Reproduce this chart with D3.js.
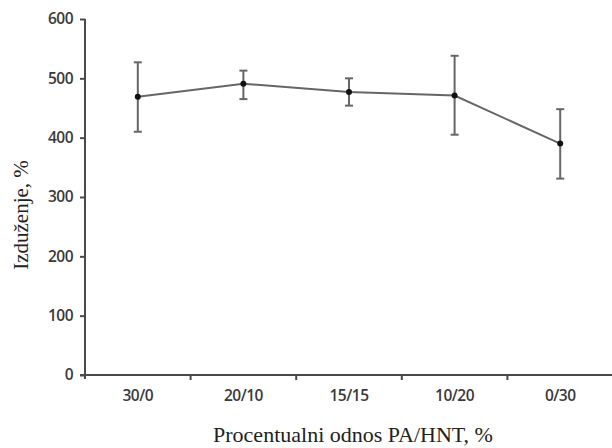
<!DOCTYPE html>
<html>
<head>
<meta charset="utf-8">
<script src="https://cdn.jsdelivr.net/npm/d3@7"></script>
<style>
  body { margin: 0; background: #fff; }
  svg { display: block; }
</style>
</head>
<body>
<svg id="chart" width="612" height="448"></svg>
<script>
const categories = ["30/0", "20/10", "15/15", "10/20", "0/30"];
const means = [469, 491, 477, 471, 390];
const upper = [527, 513, 500, 538, 448];
const lower = [410, 465, 454, 405, 331];
const yTicks = [0, 100, 200, 300, 400, 500, 600];
const xTitle = "Procentualni odnos PA/HNT, %";
const yTitle = "Izduženje, %";

(function () {
const data = categories.map((c, i) => ({ c, m: means[i], hi: upper[i], lo: lower[i] }));

const svg = d3.select("#chart");
const mLeft = 85, mRight = 613, mTop = 19, mBottom = 375;

const x = d3.scaleBand().domain(categories).range([mLeft, mRight]).paddingInner(0).paddingOuter(0);
const y = d3.scaleLinear().domain([0, 600]).range([mBottom, mTop]);

const axisColor = "#4a4a4a";
const lineColor = "#666";
const tickFont = sel => sel
  .attr("fill", "#3a3a3a")
  .style("font-family", "'Open Sans', sans-serif")
  .style("font-weight", 600)
  .style("font-size", "15.5px")
  .style("letter-spacing", "-0.5px");

// Y axis
const yAxis = svg.append("g")
  .attr("transform", `translate(${mLeft},0)`)
  .call(d3.axisLeft(y).tickValues(yTicks).tickSize(5).tickPadding(7).tickSizeOuter(0));
yAxis.select(".domain").attr("stroke", axisColor).attr("stroke-width", 2)
  .attr("d", `M0,${y(600)}V${mBottom + 4}`);
yAxis.selectAll(".tick line").attr("stroke", axisColor).attr("stroke-width", 2);
yAxis.selectAll(".tick text").call(tickFont);

// X axis (labels at band centres, ticks at band boundaries)
const xAxis = svg.append("g")
  .attr("transform", `translate(0,${mBottom})`)
  .call(d3.axisBottom(x).tickSize(0).tickPadding(15).tickSizeOuter(0));
xAxis.select(".domain").attr("stroke", axisColor).attr("stroke-width", 2)
  .attr("d", `M${mLeft - 5},0H${mRight}`);
xAxis.selectAll(".tick text").call(tickFont);
xAxis.selectAll(".bticks")
  .data(categories.slice(0, categories.length - 1))
  .enter().append("line")
  .attr("x1", d => x(d) + x.bandwidth())
  .attr("x2", d => x(d) + x.bandwidth())
  .attr("y1", 0).attr("y2", 5)
  .attr("stroke", axisColor).attr("stroke-width", 2);

// Connecting line
svg.append("path")
  .datum(data)
  .attr("fill", "none")
  .attr("stroke", lineColor)
  .attr("stroke-width", 2)
  .attr("d", d3.line().x(d => x(d.c) + x.bandwidth() / 2).y(d => y(d.m)));

// Error bars
const eb = svg.append("g").selectAll("g").data(data).enter().append("g");
eb.append("line")
  .attr("x1", d => x(d.c) + x.bandwidth() / 2)
  .attr("x2", d => x(d.c) + x.bandwidth() / 2)
  .attr("y1", d => y(d.hi)).attr("y2", d => y(d.lo))
  .attr("stroke", lineColor).attr("stroke-width", 2);
["hi", "lo"].forEach(k => {
  eb.append("line")
    .attr("x1", d => x(d.c) + x.bandwidth() / 2 - 4)
    .attr("x2", d => x(d.c) + x.bandwidth() / 2 + 4)
    .attr("y1", d => y(d[k])).attr("y2", d => y(d[k]))
    .attr("stroke", lineColor).attr("stroke-width", 2);
});

// Points
svg.append("g").selectAll("circle").data(data).enter().append("circle")
  .attr("cx", d => x(d.c) + x.bandwidth() / 2)
  .attr("cy", d => y(d.m))
  .attr("r", 3)
  .attr("fill", "#111");

// Titles
svg.append("text")
  .attr("x", (mLeft + mRight) / 2 + 4)
  .attr("y", 442)
  .attr("text-anchor", "middle")
  .attr("fill", "#222")
  .style("font-family", "'Liberation Serif', 'Times New Roman', serif")
  .style("font-size", "22px")
  .text(xTitle);

svg.append("text")
  .attr("transform", `translate(28,215) rotate(-90)`)
  .attr("text-anchor", "middle")
  .attr("fill", "#222")
  .style("font-family", "'Liberation Serif', 'Times New Roman', serif")
  .style("font-size", "21px")
  .text(yTitle);
})();
</script>
</body>
</html>
